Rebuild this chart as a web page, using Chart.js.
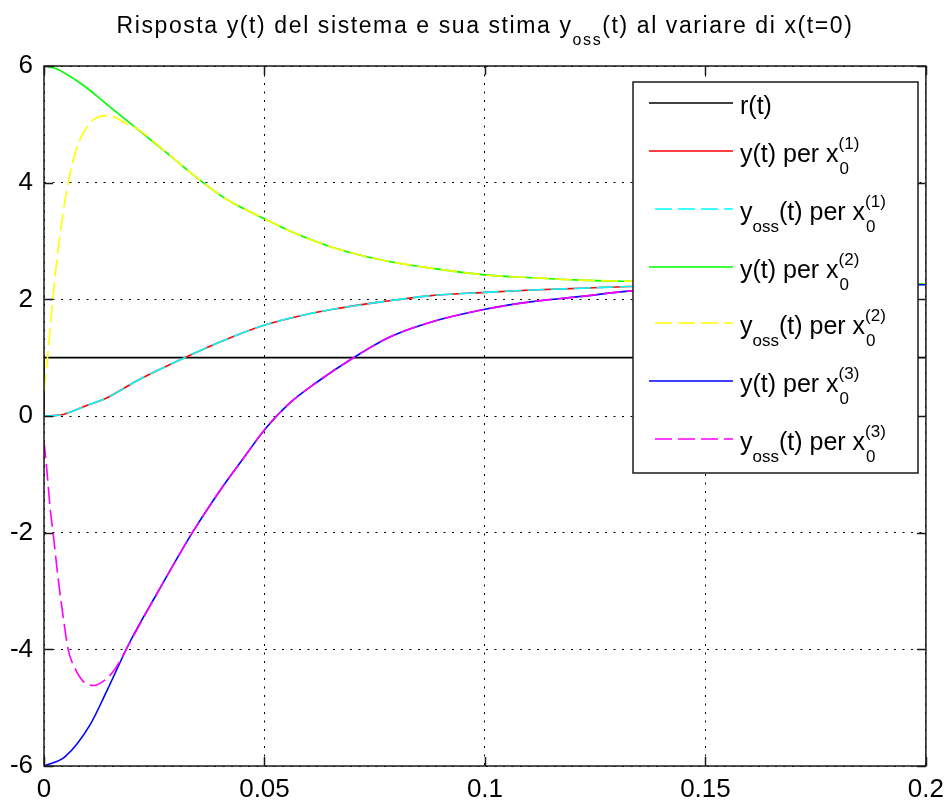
<!DOCTYPE html>
<html lang="it">
<head>
<meta charset="UTF-8">
<title>Risposta y(t) e stima y_oss(t)</title>
<script src="https://cdn.jsdelivr.net/npm/chart.js"></script>
<style>
  html, body { margin: 0; padding: 0; background: #fff; }
  #chartBox { width: 952px; height: 800px; }
</style>
</head>
<body>
<div id="chartBox">
  <canvas id="grafico" width="952" height="800"></canvas>
</div>
<script>
// valori (tempo in s)
const tRif = [0, 0, 0.2];
const rif = [0, 1, 1];

// y(t) per x0^(1) e la sua stima (le due curve coincidono)
const t1 = [0, 0.004, 0.0066, 0.01, 0.0142, 0.0217, 0.0319, 0.0406, 0.0497, 0.0594, 0.0655, 0.0768, 0.0873, 0.1, 0.1107, 0.122, 0.1326, 0.15, 0.17, 0.2];
const y1 = [0, 0.02, 0.086, 0.19, 0.31, 0.63, 1.0, 1.29, 1.55, 1.74, 1.83, 1.96, 2.06, 2.12, 2.16, 2.19, 2.22, 2.24, 2.25, 2.26];
const tOss1 = [0, 0.004, 0.0066, 0.01, 0.0142, 0.0217, 0.0319, 0.0406, 0.0497, 0.0594, 0.0655, 0.0768, 0.0873, 0.1, 0.1107, 0.122, 0.1326, 0.15, 0.17, 0.2];
const yOss1 = [0, 0.02, 0.086, 0.19, 0.31, 0.63, 1.0, 1.29, 1.55, 1.74, 1.83, 1.96, 2.06, 2.12, 2.16, 2.19, 2.22, 2.24, 2.25, 2.26];

// y(t) per x0^(2)
const t2 = [0, 0.0025, 0.0089, 0.0146, 0.021, 0.0293, 0.0349, 0.0413, 0.05, 0.0564, 0.0655, 0.0768, 0.0873, 0.1, 0.1107, 0.122, 0.1326, 0.15, 0.17, 0.2];
const y2 = [6.0, 5.96, 5.67, 5.32, 4.93, 4.42, 4.07, 3.72, 3.38, 3.15, 2.89, 2.67, 2.54, 2.42, 2.37, 2.33, 2.31, 2.28, 2.27, 2.26];
const tOss2 = [0, 0.0006, 0.0014, 0.002, 0.0029, 0.0044, 0.0055, 0.0066, 0.0081, 0.0097, 0.0112, 0.0142, 0.0164, 0.0187, 0.021, 0.0293, 0.0349, 0.0413, 0.05, 0.0564, 0.0655, 0.0768, 0.0873, 0.1, 0.1107, 0.122, 0.1326, 0.15, 0.17, 0.2];
const yOss2 = [0.43, 0.83, 1.52, 1.99, 2.66, 3.52, 4.0, 4.38, 4.73, 4.95, 5.08, 5.15, 5.11, 5.01, 4.93, 4.42, 4.07, 3.72, 3.38, 3.15, 2.89, 2.67, 2.54, 2.42, 2.37, 2.33, 2.31, 2.28, 2.27, 2.26];

// y(t) per x0^(3)
const t3 = [0, 0.0048, 0.0104, 0.0142, 0.0195, 0.0255, 0.0334, 0.0398, 0.0443, 0.0504, 0.0557, 0.0617, 0.07, 0.0783, 0.0873, 0.1, 0.1107, 0.122, 0.1326, 0.15, 0.17, 0.2];
const y3 = [-6.0, -5.84, -5.30, -4.72, -3.87, -3.06, -2.03, -1.29, -0.82, -0.2, 0.22, 0.57, 0.99, 1.35, 1.60, 1.83, 1.96, 2.05, 2.14, 2.20, 2.24, 2.25];
const tOss3 = [0, 0.0006, 0.0014, 0.0021, 0.0032, 0.0044, 0.0055, 0.007, 0.0089, 0.0112, 0.0134, 0.0157, 0.0176, 0.019, 0.0255, 0.0334, 0.0398, 0.0443, 0.0504, 0.0557, 0.0617, 0.07, 0.0783, 0.0873, 0.1, 0.1107, 0.122, 0.1326, 0.15, 0.17, 0.2];
const yOss3 = [-0.43, -0.89, -1.58, -2.03, -2.78, -3.47, -4.01, -4.32, -4.55, -4.62, -4.55, -4.38, -4.15, -3.95, -3.06, -2.03, -1.29, -0.82, -0.2, 0.22, 0.57, 0.99, 1.35, 1.60, 1.83, 1.96, 2.05, 2.14, 2.20, 2.24, 2.25];

const xTicks = [0, 0.05, 0.1, 0.15, 0.2];
const yTicks = [-6, -4, -2, 0, 2, 4, 6];

// legenda: testo, pedice "oss", indice dell'esponente di x0
const nomiSerie = ['r(t)', 'y(t) per x0(1)', 'yoss(t) per x0(1)', 'y(t) per x0(2)', 'yoss(t) per x0(2)', 'y(t) per x0(3)', 'yoss(t) per x0(3)'];
const legenda = [
  { testo: 'r(t)' },
  { testo: 'y', resto: '(t) per x', k: '1' },
  { testo: 'y', oss: true, resto: '(t) per x', k: '1' },
  { testo: 'y', resto: '(t) per x', k: '2' },
  { testo: 'y', oss: true, resto: '(t) per x', k: '2' },
  { testo: 'y', resto: '(t) per x', k: '3' },
  { testo: 'y', oss: true, resto: '(t) per x', k: '3' }
];
const colori = ['#000000', '#ff0000', '#00ffff', '#00ff00', '#ffff00', '#0000ff', '#ff00ff'];
const tratteggio = [false, false, true, false, true, false, true];

const FONT = '"Liberation Sans", Arial, Helvetica, sans-serif';
const DASH = [17, 6];

function punti(t, v) {
  return t.map((x, i) => ({ x: x, y: v[i] }));
}

const serie = [[tRif, rif], [t1, y1], [tOss1, yOss1], [t2, y2], [tOss2, yOss2], [t3, y3], [tOss3, yOss3]];

const datasets = serie.map((s, i) => ({
  label: nomiSerie[i],
  data: punti(s[0], s[1]),
  borderColor: colori[i],
  borderWidth: 1.6,
  borderDash: tratteggio[i] ? DASH : [],
  pointRadius: 0,
  tension: i === 0 ? 0 : 0.4,
  cubicInterpolationMode: i === 0 ? 'default' : 'monotone',
  fill: false,
  order: serie.length - i // le ultime serie sopra
}));

// scrive testo con pedici/apici
function testoRicco(ctx, x, y, voce, size, small) {
  ctx.font = size + 'px ' + FONT;
  ctx.fillText(voce.testo, x, y);
  x += ctx.measureText(voce.testo).width;
  if (voce.oss) {
    ctx.font = small + 'px ' + FONT;
    ctx.fillText('oss', x, y + 12);
    x += ctx.measureText('oss').width;
  }
  if (voce.resto) {
    ctx.font = size + 'px ' + FONT;
    ctx.fillText(voce.resto, x, y);
    x += ctx.measureText(voce.resto).width;
  }
  if (voce.k) {
    ctx.font = small + 'px ' + FONT;
    ctx.fillText('0', x + 1, y + 12);
    ctx.fillText('(' + voce.k + ')', x, y - 13);
  }
}

const cornice = {
  id: 'cornice',
  afterDatasetsDraw(chart) {
    const ctx = chart.ctx;
    const a = chart.chartArea;
    const sx = chart.scales.x, sy = chart.scales.y;
    ctx.save();
    ctx.strokeStyle = '#1a1a1a';
    ctx.lineWidth = 1.5;
    ctx.strokeRect(a.left, a.top, a.right - a.left, a.bottom - a.top);
    // tacche interne su tutti i lati
    ctx.beginPath();
    const L = 9;
    xTicks.forEach(v => {
      const px = Math.round(sx.getPixelForValue(v)) + 0.5;
      ctx.moveTo(px, a.bottom); ctx.lineTo(px, a.bottom - L);
      ctx.moveTo(px, a.top); ctx.lineTo(px, a.top + L);
    });
    yTicks.forEach(v => {
      const py = Math.round(sy.getPixelForValue(v)) + 0.5;
      ctx.moveTo(a.left, py); ctx.lineTo(a.left + L, py);
      ctx.moveTo(a.right, py); ctx.lineTo(a.right - L, py);
    });
    ctx.stroke();

    // titolo con pedice
    ctx.fillStyle = '#000';
    ctx.textBaseline = 'alphabetic';
    ctx.letterSpacing = '1.6px';
    const tSize = 23, tSmall = 16;
    const p1 = 'Risposta y(t) del sistema e sua stima y', p2 = 'oss', p3 = '(t) al variare di x(t=0)';
    ctx.font = tSize + 'px ' + FONT;
    const w1 = ctx.measureText(p1).width, w3 = ctx.measureText(p3).width;
    ctx.font = tSmall + 'px ' + FONT;
    const w2 = ctx.measureText(p2).width;
    let x = (a.left + a.right) / 2 - (w1 + w2 + w3) / 2;
    const yb = 33;
    ctx.font = tSize + 'px ' + FONT;
    ctx.fillText(p1, x, yb); x += w1;
    ctx.font = tSmall + 'px ' + FONT;
    ctx.fillText(p2, x, yb + 12); x += w2;
    ctx.font = tSize + 'px ' + FONT;
    ctx.fillText(p3, x, yb);
    ctx.letterSpacing = '0px';

    // legenda
    const lx = 633, ly = 82, lw = 285, lh = 391;
    ctx.fillStyle = '#fff';
    ctx.fillRect(lx, ly, lw, lh);
    ctx.strokeStyle = '#1a1a1a';
    ctx.lineWidth = 1.5;
    ctx.strokeRect(lx, ly, lw, lh);
    const righe = [103, 151, 209, 267, 323, 381, 439];
    legenda.forEach((voce, i) => {
      const yy = righe[i];
      ctx.beginPath();
      ctx.strokeStyle = colori[i];
      ctx.lineWidth = 1.6;
      ctx.setLineDash(tratteggio[i] ? DASH : []);
      ctx.moveTo(tratteggio[i] ? 655 : 649, yy);
      ctx.lineTo(733, yy);
      ctx.stroke();
      ctx.setLineDash([]);
      ctx.fillStyle = '#000';
      testoRicco(ctx, 740, yy + 11, voce, 25, 17);
    });
    ctx.restore();
  }
};

const ctx = document.getElementById('grafico').getContext('2d');
new Chart(ctx, {
  type: 'line',
  data: { datasets: datasets },
  options: {
    responsive: false,
    animation: false,
    events: [],
    layout: { padding: { top: 66, right: 23, left: 0, bottom: 0 } },
    plugins: {
      legend: { display: false },
      title: { display: false },
      tooltip: { enabled: false }
    },
    scales: {
      x: {
        type: 'linear',
        min: 0,
        max: 0.2,
        afterBuildTicks(s) { s.ticks = xTicks.map(v => ({ value: v })); },
        ticks: {
          color: '#000',
          font: { family: FONT, size: 26 },
          padding: 8,
          maxRotation: 0,
          autoSkip: false,
          callback: v => String(v)
        },
        grid: { color: '#000', lineWidth: 1, drawTicks: false },
        border: { display: false, dash: [2, 6.5] },
        afterFit(s) { s.height = 34; }
      },
      y: {
        type: 'linear',
        min: -6,
        max: 6,
        afterBuildTicks(s) { s.ticks = yTicks.map(v => ({ value: v })); },
        ticks: {
          color: '#000',
          font: { family: FONT, size: 26 },
          padding: 11,
          autoSkip: false,
          callback: v => String(v)
        },
        grid: { color: '#000', lineWidth: 1, drawTicks: false },
        border: { display: false, dash: [2, 6.5] },
        afterFit(s) { s.width = 44; }
      }
    }
  },
  plugins: [cornice]
});
</script>
</body>
</html>
